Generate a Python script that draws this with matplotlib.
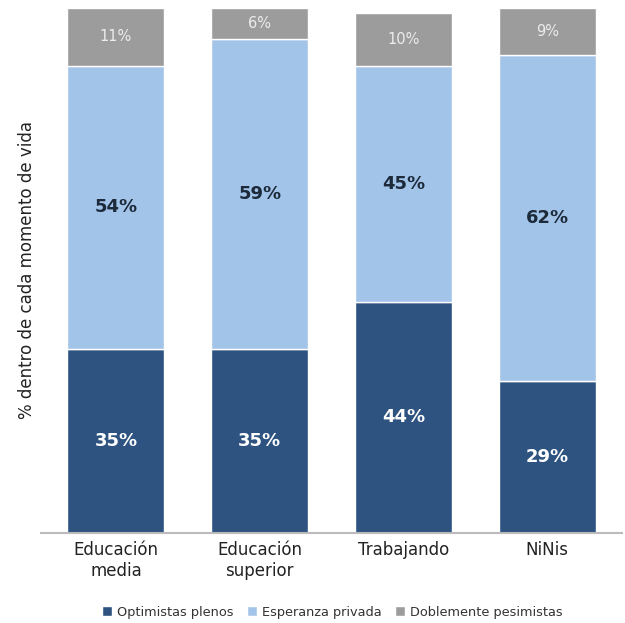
import numpy as np
import matplotlib
matplotlib.use("Agg")
import matplotlib.pyplot as plt

# data
categories = ["Educación\nmedia", "Educación\nsuperior", "Trabajando", "NiNis"]
optimistas = [35, 35, 44, 29]
esperanza = [54, 59, 45, 62]
pesimistas = [11, 6, 10, 9]
series_names = ["Optimistas plenos", "Esperanza privada", "Doblemente pesimistas"]

colors = ["#2e5380", "#a3c4e9", "#9c9c9c"]

fig = plt.figure(figsize=(6.25, 6.23), dpi=100)
ax = fig.add_axes([0.066, 0.1445, 0.929, 0.843])

x = np.arange(len(categories))
w = 0.675
b1 = ax.bar(x, optimistas, w, color=colors[0], edgecolor="white", linewidth=1, label=series_names[0])
b2 = ax.bar(x, esperanza, w, bottom=optimistas, color=colors[1], edgecolor="white", linewidth=1, label=series_names[1])
bottom3 = np.array(optimistas) + np.array(esperanza)
b3 = ax.bar(x, pesimistas, w, bottom=bottom3, color=colors[2], edgecolor="white", linewidth=1, label=series_names[2])

# labels in the segments
for i in range(len(categories)):
    ax.text(x[i], optimistas[i] / 2, f"{optimistas[i]}%", ha="center", va="center",
            color="white", fontsize=13, fontweight="bold")
    ax.text(x[i], optimistas[i] + esperanza[i] / 2, f"{esperanza[i]}%", ha="center", va="center",
            color="#1c2a3a", fontsize=13, fontweight="bold")
    ax.text(x[i], bottom3[i] + pesimistas[i] / 2, f"{pesimistas[i]}%", ha="center", va="center",
            color="#ececec", fontsize=10.5)

ax.set_xlim(-0.52, 3.52)
ax.set_ylim(0, 100)
ax.set_xticks(x)
ax.set_xticklabels(categories, fontsize=12, color="#222222")
ax.tick_params(axis="x", length=0, pad=6)
ax.set_yticks([])
for s in ["top", "right", "left"]:
    ax.spines[s].set_visible(False)
ax.spines["bottom"].set_color("#bbbbbb")
ax.spines["bottom"].set_linewidth(1.5)

ax.set_ylabel("% dentro de cada momento de vida", fontsize=12, color="#222222", labelpad=4)

fig.legend(handles=[b1, b2, b3], labels=series_names, loc="center", bbox_to_anchor=(0.532, 0.017),
           ncol=3, frameon=False, fontsize=9.3, handlelength=0.8, handleheight=0.8,
           handletextpad=0.4, columnspacing=1.0, labelcolor="#333333")

fig.savefig("out.png", dpi=100)
